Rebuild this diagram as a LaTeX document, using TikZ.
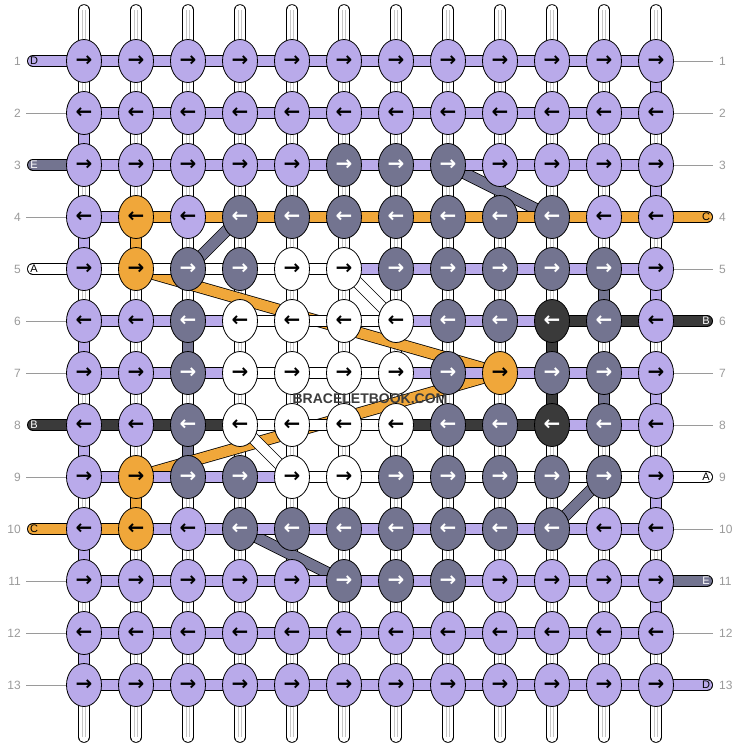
\documentclass[tikz,border=0pt]{standalone}
\usepackage{fontspec}
\setmainfont{Liberation Sans}
\newfontfamily\arrowfont{DejaVu Sans}
\usetikzlibrary{shapes.geometric,backgrounds}

\definecolor{lv}{HTML}{B9AAEA}
\definecolor{sl}{HTML}{737490}
\definecolor{am}{HTML}{F0A73A}
\definecolor{co}{HTML}{3A3A3A}
\definecolor{wh}{HTML}{FFFFFF}
\definecolor{numgray}{HTML}{9A9A9A}
\definecolor{stampgray}{HTML}{3C3C3C}
\colorlet{onlv}{black}
\colorlet{onsl}{white}
\colorlet{onam}{black}
\colorlet{onco}{white}
\colorlet{onwh}{black}

\begin{document}
\begin{tikzpicture}[x=1pt, y=-1pt,
  knot/.style={ellipse, draw, line width=0.8pt, minimum width=35pt, minimum height=43pt, inner sep=0pt,
    font=\arrowfont\bfseries\fontsize{20}{20}\selectfont},
  thread/.style={line width=0.8pt, double=#1, double distance=10.4pt},
  warp/.style={line width=0.8pt, double=white, double distance=10pt, line cap=round},
  core/.style={gray!45, line width=0.6pt, double=white, double distance=2pt},
  tick/.style={numgray, line width=0.8pt},
  rownum/.style={numgray, font=\fontsize{12}{12}\selectfont, inner sep=0pt},
  tag/.style={font=\fontsize{11}{11}\selectfont, inner sep=0pt},
  stamp/.style={font=\bfseries\fontsize{14}{14}\selectfont, text=stampgray, inner sep=1pt}]
  \useasboundingbox (0,0) rectangle (740,748);

  % knots, odd rows point right
  \foreach \r/\row in {
      1/{lv,lv,lv,lv,lv,lv,lv,lv,lv,lv,lv,lv},
      2/{lv,lv,lv,lv,lv,lv,lv,lv,lv,lv,lv,lv},
      3/{lv,lv,lv,lv,lv,sl,sl,sl,lv,lv,lv,lv},
      4/{lv,am,lv,sl,sl,sl,sl,sl,sl,sl,lv,lv},
      5/{lv,am,sl,sl,wh,wh,sl,sl,sl,sl,sl,lv},
      6/{lv,lv,sl,wh,wh,wh,wh,sl,sl,co,sl,lv},
      7/{lv,lv,sl,wh,wh,wh,wh,sl,am,sl,sl,lv},
      8/{lv,lv,sl,wh,wh,wh,wh,sl,sl,co,sl,lv},
      9/{lv,am,sl,sl,wh,wh,sl,sl,sl,sl,sl,lv},
      10/{lv,am,lv,sl,sl,sl,sl,sl,sl,sl,lv,lv},
      11/{lv,lv,lv,lv,lv,sl,sl,sl,lv,lv,lv,lv},
      12/{lv,lv,lv,lv,lv,lv,lv,lv,lv,lv,lv,lv},
      13/{lv,lv,lv,lv,lv,lv,lv,lv,lv,lv,lv,lv}}
    \foreach \f [count=\c] in \row
      \node[knot, fill=\f, text=on\f] (k-\r-\c) at ({84+52*(\c-1)}, {61+52*(\r-1)}) {\ifodd\r →\else ←\fi};

  \begin{scope}[on background layer]
    % vertical strings
    \foreach \c in {1,...,12} {
      \coordinate (top-\c) at ({84+52*(\c-1)}, 10);
      \coordinate (bot-\c) at ({84+52*(\c-1)}, 737);
      \draw[warp] (top-\c) -- (bot-\c);
      \draw[core] (top-\c) -- (bot-\c);
    }
    % coloured pieces between rows
    \foreach \c/\r/\f in {1/2/lv, 1/4/lv, 1/6/lv, 1/8/lv, 1/10/lv, 1/12/lv,
        12/1/lv, 12/3/lv, 12/5/lv, 12/7/lv, 12/9/lv, 12/11/lv,
        2/4/am, 2/9/am, 3/6/sl, 3/8/sl, 10/6/co, 10/7/co, 11/5/sl, 11/7/sl} {
      \pgfmathtruncatemacro\s{\r+1}
      \draw[thread=\f] (k-\r-\c.center) -- (k-\s-\c.center);
    }
    % slanted runs
    \foreach \a/\b/\f in {3-8/4-10/sl, 4-4/5-3/sl, 5-2/7-9/am, 9-2/7-9/am,
        5-6/6-7/wh, 8-4/9-5/wh, 10-4/11-6/sl, 10-10/9-11/sl}
      \draw[thread=\f] (k-\a.center) -- (k-\b.center);
    % rows
    \foreach \r/\row in {
        1/{lv,lv,lv,lv,lv,lv,lv,lv,lv,lv,lv},
        2/{lv,lv,lv,lv,lv,lv,lv,lv,lv,lv,lv},
        3/{lv,lv,lv,lv,lv,lv,lv,lv,lv,lv,lv},
        4/{lv,am,am,am,am,am,am,am,am,am,am},
        5/{wh,wh,wh,wh,wh,lv,lv,lv,lv,lv,lv},
        6/{lv,lv,lv,wh,wh,wh,lv,lv,lv,co,co},
        7/{lv,lv,lv,wh,wh,wh,lv,lv,lv,lv,lv},
        8/{co,co,co,wh,wh,wh,co,co,co,lv,lv},
        9/{lv,lv,lv,lv,wh,wh,wh,wh,wh,wh,wh},
        10/{am,lv,lv,lv,lv,lv,lv,lv,lv,lv,lv},
        11/{lv,lv,lv,lv,lv,lv,lv,lv,lv,lv,lv},
        12/{lv,lv,lv,lv,lv,lv,lv,lv,lv,lv,lv},
        13/{lv,lv,lv,lv,lv,lv,lv,lv,lv,lv,lv}}
      \foreach \f [count=\c] in \row {
        \pgfmathtruncatemacro\n{\c+1}
        \draw[thread=\f] (k-\r-\c.center) -- (k-\r-\n.center);
      }
    % loose ends
    \foreach \r/\f/\l/\t in {1/lv/D/black, 3/sl/E/white, 5/wh/A/black, 8/co/B/white, 10/am/C/black} {
      \coordinate (in-\r) at (33, {61+52*(\r-1)});
      \draw[thread=\f, line cap=round] (in-\r) -- (k-\r-1.center);
      \node[tag, text=\t] (tl-\r) at (34, {61+52*(\r-1)}) {\l};
    }
    \foreach \r/\f/\l/\t in {4/am/C/black, 6/co/B/white, 9/wh/A/black, 11/sl/E/white, 13/lv/D/black} {
      \coordinate (out-\r) at (707, {61+52*(\r-1)});
      \draw[thread=\f, line cap=round] (k-\r-12.center) -- (out-\r);
      \node[tag, text=\t] (tr-\r) at (706, {61+52*(\r-1)}) {\l};
    }
  \end{scope}

  % row numbers
  \foreach \r in {1,...,13} {
    \node[rownum, anchor=east] (nl-\r) at (21, {61+52*(\r-1)}) {\r};
    \node[rownum, anchor=west] (nr-\r) at (719, {61+52*(\r-1)}) {\r};
  }
  \foreach \r in {2,4,6,7,9,11,12,13}
    \draw[tick, shorten <=5pt] (nl-\r.east) -- (k-\r-1.west);
  \foreach \r in {1,2,3,5,7,8,10,12}
    \draw[tick, shorten >=6pt] (k-\r-12.east) -- (nr-\r.west);

  \node[stamp] (wm) at (370,399) {BRACELETBOOK.COM};
\end{tikzpicture}
\end{document}
